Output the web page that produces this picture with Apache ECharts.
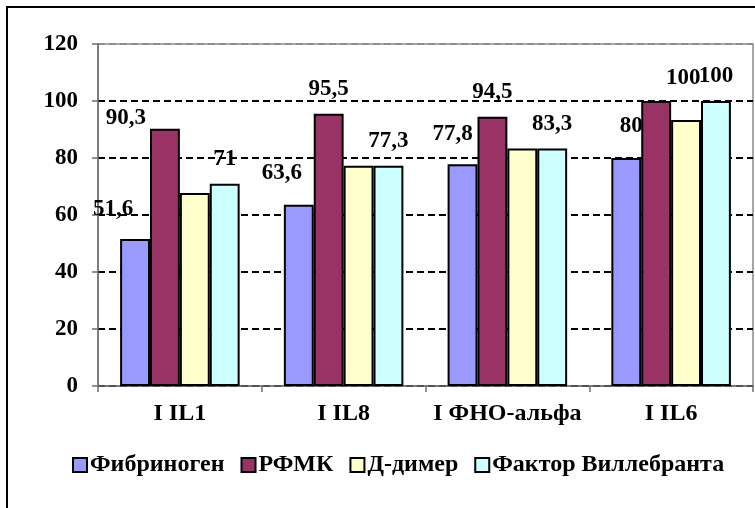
<!DOCTYPE html>
<html>
<head>
<meta charset="utf-8">
<script src="https://cdn.jsdelivr.net/npm/echarts@6/dist/echarts.min.js"></script>
<style>
  html, body { margin: 0; padding: 0; background: #fff; }
  #chart { width: 755px; height: 508px; }
</style>
</head>
<body>
<div id="chart"></div>
<script>
// данные
var categories = ['I IL1', 'I IL8', 'I ФНО-альфа', 'I IL6'];
var seriesNames = ['Фибриноген', 'РФМК', 'Д-димер', 'Фактор Виллебранта'];
var fibrinogen = [51.6, 63.6, 77.8, 80];
var rfmk = [90.3, 95.5, 94.5, 100];
var dDimer = [67.7, 77.3, 83.3, 93.3];
var willebrand = [71, 77.3, 83.3, 100];
var yTicks = [0, 20, 40, 60, 80, 100, 120];

// сдвиги подписей (как в исходнике)
var fibShift = [[-22, -5], [-17, -7], [-10, -6], [5, -7]];
var rfmkShift = [[-39, 14], [0, 0], [0, 0], [27, 2]];

var fontFamily = 'Liberation Serif';

function fmt(v) {
    return String(v).replace('.', ',');
}

function withShift(values, shifts) {
    return values.map(function (v, i) {
        return {value: v, label: {offset: shifts[i]}};
    });
}

var labelStyle = {
    show: true,
    position: 'top',
    distance: 13,
    color: '#000',
    fontFamily: fontFamily,
    fontWeight: 'bold',
    fontSize: 23,
    formatter: function (p) { return fmt(p.value); }
};

var chart = echarts.init(document.getElementById('chart'));
var option = {
    animation: false,
    backgroundColor: '#fff',
    textStyle: {fontFamily: fontFamily},
    graphic: [{
        type: 'rect',
        shape: {x: 7, y: 7, width: 800, height: 560},
        style: {fill: 'none', stroke: '#000', lineWidth: 2},
        silent: true
    }],
    grid: {
        left: 98,
        right: 2,
        top: 44,
        bottom: 122,
        show: true,
        borderColor: '#8c8c8c',
        borderWidth: 1.5,
        backgroundColor: 'transparent'
    },
    legend: {
        data: seriesNames,
        left: 72,
        top: 453,
        padding: 0,
        itemGap: 16,
        itemWidth: 14,
        itemHeight: 14,
        icon: 'rect',
        itemStyle: {borderColor: '#000', borderWidth: 2},
        textStyle: {
            color: '#000',
            fontFamily: fontFamily,
            fontWeight: 'bold',
            fontSize: 24,
            padding: [0, 0, 0, -2]
        }
    },
    xAxis: {
        type: 'category',
        data: categories,
        axisLine: {lineStyle: {color: '#6e6e6e', width: 1.5}},
        axisTick: {show: true, length: 6, lineStyle: {color: '#6e6e6e', width: 1.5}},
        axisLabel: {
            interval: 0,
            margin: 16,
            color: '#000',
            fontFamily: fontFamily,
            fontWeight: 'bold',
            fontSize: 24
        }
    },
    yAxis: {
        type: 'value',
        min: yTicks[0],
        max: yTicks[yTicks.length - 1],
        interval: 20,
        axisLine: {show: true, lineStyle: {color: '#6e6e6e', width: 1.5}},
        axisTick: {show: true, length: 6, lineStyle: {color: '#6e6e6e', width: 1.5}},
        axisLabel: {
            margin: 20,
            color: '#000',
            fontFamily: fontFamily,
            fontWeight: 'bold',
            fontSize: 23
        },
        splitLine: {
            show: true,
            lineStyle: {
                color: ['#000', '#000', '#000', '#000', '#000', '#000', '#8c8c8c'],
                width: 2,
                type: [7, 4]
            }
        }
    },
    series: [
        {
            name: seriesNames[0],
            type: 'bar',
            barGap: '0%',
            barCategoryGap: '27%',
            data: withShift(fibrinogen, fibShift),
            itemStyle: {color: '#9999ff', borderColor: '#000', borderWidth: 2},
            label: labelStyle
        },
        {
            name: seriesNames[1],
            type: 'bar',
            data: withShift(rfmk, rfmkShift),
            itemStyle: {color: '#993366', borderColor: '#000', borderWidth: 2},
            label: labelStyle
        },
        {
            name: seriesNames[2],
            type: 'bar',
            data: dDimer,
            itemStyle: {color: '#ffffcc', borderColor: '#000', borderWidth: 2},
            label: {show: false}
        },
        {
            name: seriesNames[3],
            type: 'bar',
            data: willebrand,
            itemStyle: {color: '#ccffff', borderColor: '#000', borderWidth: 2},
            label: labelStyle
        }
    ]
};
chart.setOption(option);
</script>
</body>
</html>
